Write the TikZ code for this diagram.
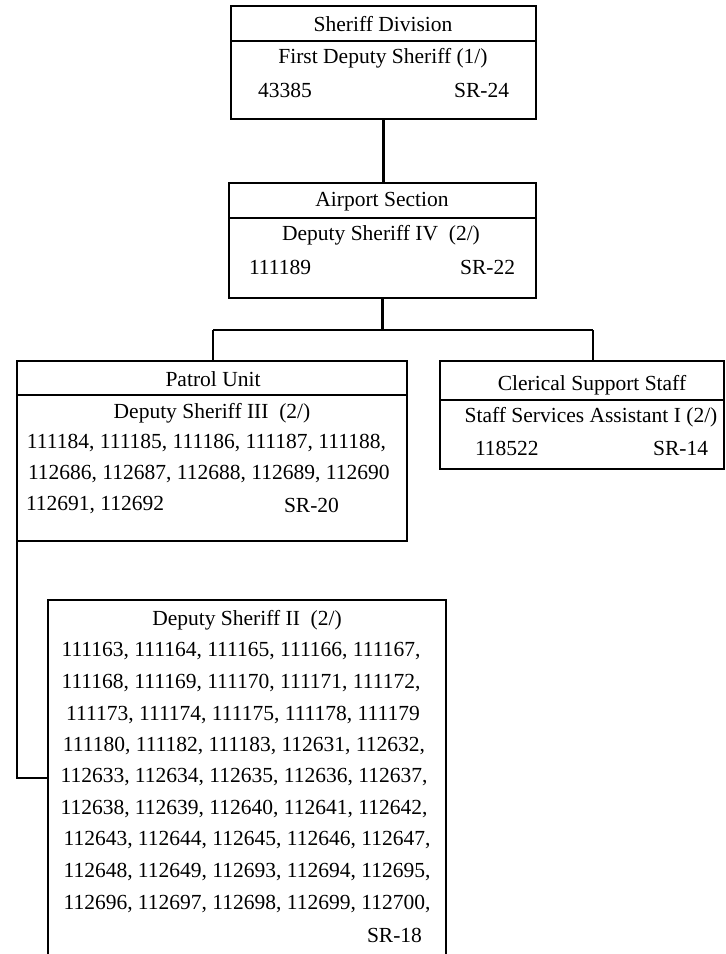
\documentclass[tikz,border=0pt]{standalone}
\usepackage{fontspec}
\setmainfont{Liberation Serif}
\begin{document}
\begin{tikzpicture}[x=1pt,y=-1pt,line width=2.2pt,
  every node/.style={font=\fontsize{21.5}{26}\selectfont},
  box/.style={draw, line width=2.2pt, inner sep=0pt, outer sep=0pt},
  txt/.style={inner sep=0pt, outer sep=0pt},
  link/.style={draw, line width=2.2pt}]
\useasboundingbox (0,0) rectangle (726,954);

% boxes
\node[box, minimum width=305pt, minimum height=113pt] (top) at (383.5,62.5) {};
\node[box, minimum width=307pt, minimum height=115pt] (air) at (382.5,240.5) {};
\node[box, minimum width=390pt, minimum height=180pt] (pat) at (212,451) {};
\node[box, minimum width=284pt, minimum height=108pt] (cle) at (582,415) {};
\coordinate (dsTL) at (48,600);
\coordinate (dsTR) at (446,600);
\coordinate (dsBL) at (48,960);
\coordinate (dsBR) at (446,960);
\draw[link] (dsBL) -- (dsTL) -- (dsTR) -- (dsBR);

% header dividers
\draw[link] (top.west |- 0,41) -- (top.east |- 0,41);
\draw[link] (air.west |- 0,218) -- (air.east |- 0,218);
\draw[link] (pat.west |- 0,395) -- (pat.east |- 0,395);
\draw[link] (cle.west |- 0,400) -- (cle.east |- 0,400);

% connectors
\coordinate (bar) at (383,330);
\coordinate (pdrop) at (213,330);
\coordinate (cdrop) at (593,330);
\coordinate (elbow) at (17,778);
\draw[link] (top.south) -- (top.south |- air.north);
\draw[link] (air.south) -- (air.south |- bar);
\draw[link] (pdrop) -- (cdrop);
\draw[link] (pdrop) -- (pdrop |- pat.north);
\draw[link] (cdrop) -- (cdrop |- cle.north);
\draw[link] (pat.south west) -- (elbow) -- (dsTL |- elbow);

% top box text
\node[txt] (t1) at (383,24) {Sheriff Division};
\node[txt] (t2) at (383,58) {First Deputy Sheriff (1/)};
\node[txt, anchor=west] (t3) at (258,90) {43385};
\node[txt, anchor=east] (t4) at (509,90) {SR-24};

% airport text
\node[txt] (a1) at (382,202) {Airport Section};
\node[txt] (a2) at (381,235) {Deputy Sheriff IV\ \ (2/)};
\node[txt, anchor=west] (a3) at (249,267) {111189};
\node[txt, anchor=east] (a4) at (515,267) {SR-22};

% patrol text
\node[txt] (p1) at (213,379) {Patrol Unit};
\node[txt] (p2) at (212,413) {Deputy Sheriff III\ \ (2/)};
\node[txt, anchor=west] (p3) at (27,443) {111184, 111185, 111186, 111187, 111188,};
\node[txt, anchor=west] (p4) at (28,474) {112686, 112687, 112688, 112689, 112690};
\node[txt, anchor=west] (p5) at (26,505) {112691, 112692};
\node[txt, anchor=west] (p6) at (284,505) {SR-20};

% clerical text
\node[txt] (c1) at (592,385) {Clerical Support Staff};
\node[txt] (c2) at (591,417) {Staff Services Assistant I (2/)};
\node[txt, anchor=west] (c3) at (475,448) {118522};
\node[txt, anchor=east] (c4) at (708,448) {SR-14};

% deputy sheriff II text
\node[txt] (d0) at (247,620) {Deputy Sheriff II\ \ (2/)};
\node[txt] (d1) at (241,651.5) {111163, 111164, 111165, 111166, 111167,};
\node[txt] (d2) at (241,683) {111168, 111169, 111170, 111171, 111172,};
\node[txt] (d3) at (243,714.5) {111173, 111174, 111175, 111178, 111179};
\node[txt] (d4) at (244,746) {111180, 111182, 111183, 112631, 112632,};
\node[txt] (d5) at (244,777.5) {112633, 112634, 112635, 112636, 112637,};
\node[txt] (d6) at (244,809) {112638, 112639, 112640, 112641, 112642,};
\node[txt] (d7) at (247,840.5) {112643, 112644, 112645, 112646, 112647,};
\node[txt] (d8) at (247,872) {112648, 112649, 112693, 112694, 112695,};
\node[txt] (d9) at (247,903.5) {112696, 112697, 112698, 112699, 112700,};
\node[txt, anchor=east] (d10) at (422,935) {SR-18};
\end{tikzpicture}
\end{document}
